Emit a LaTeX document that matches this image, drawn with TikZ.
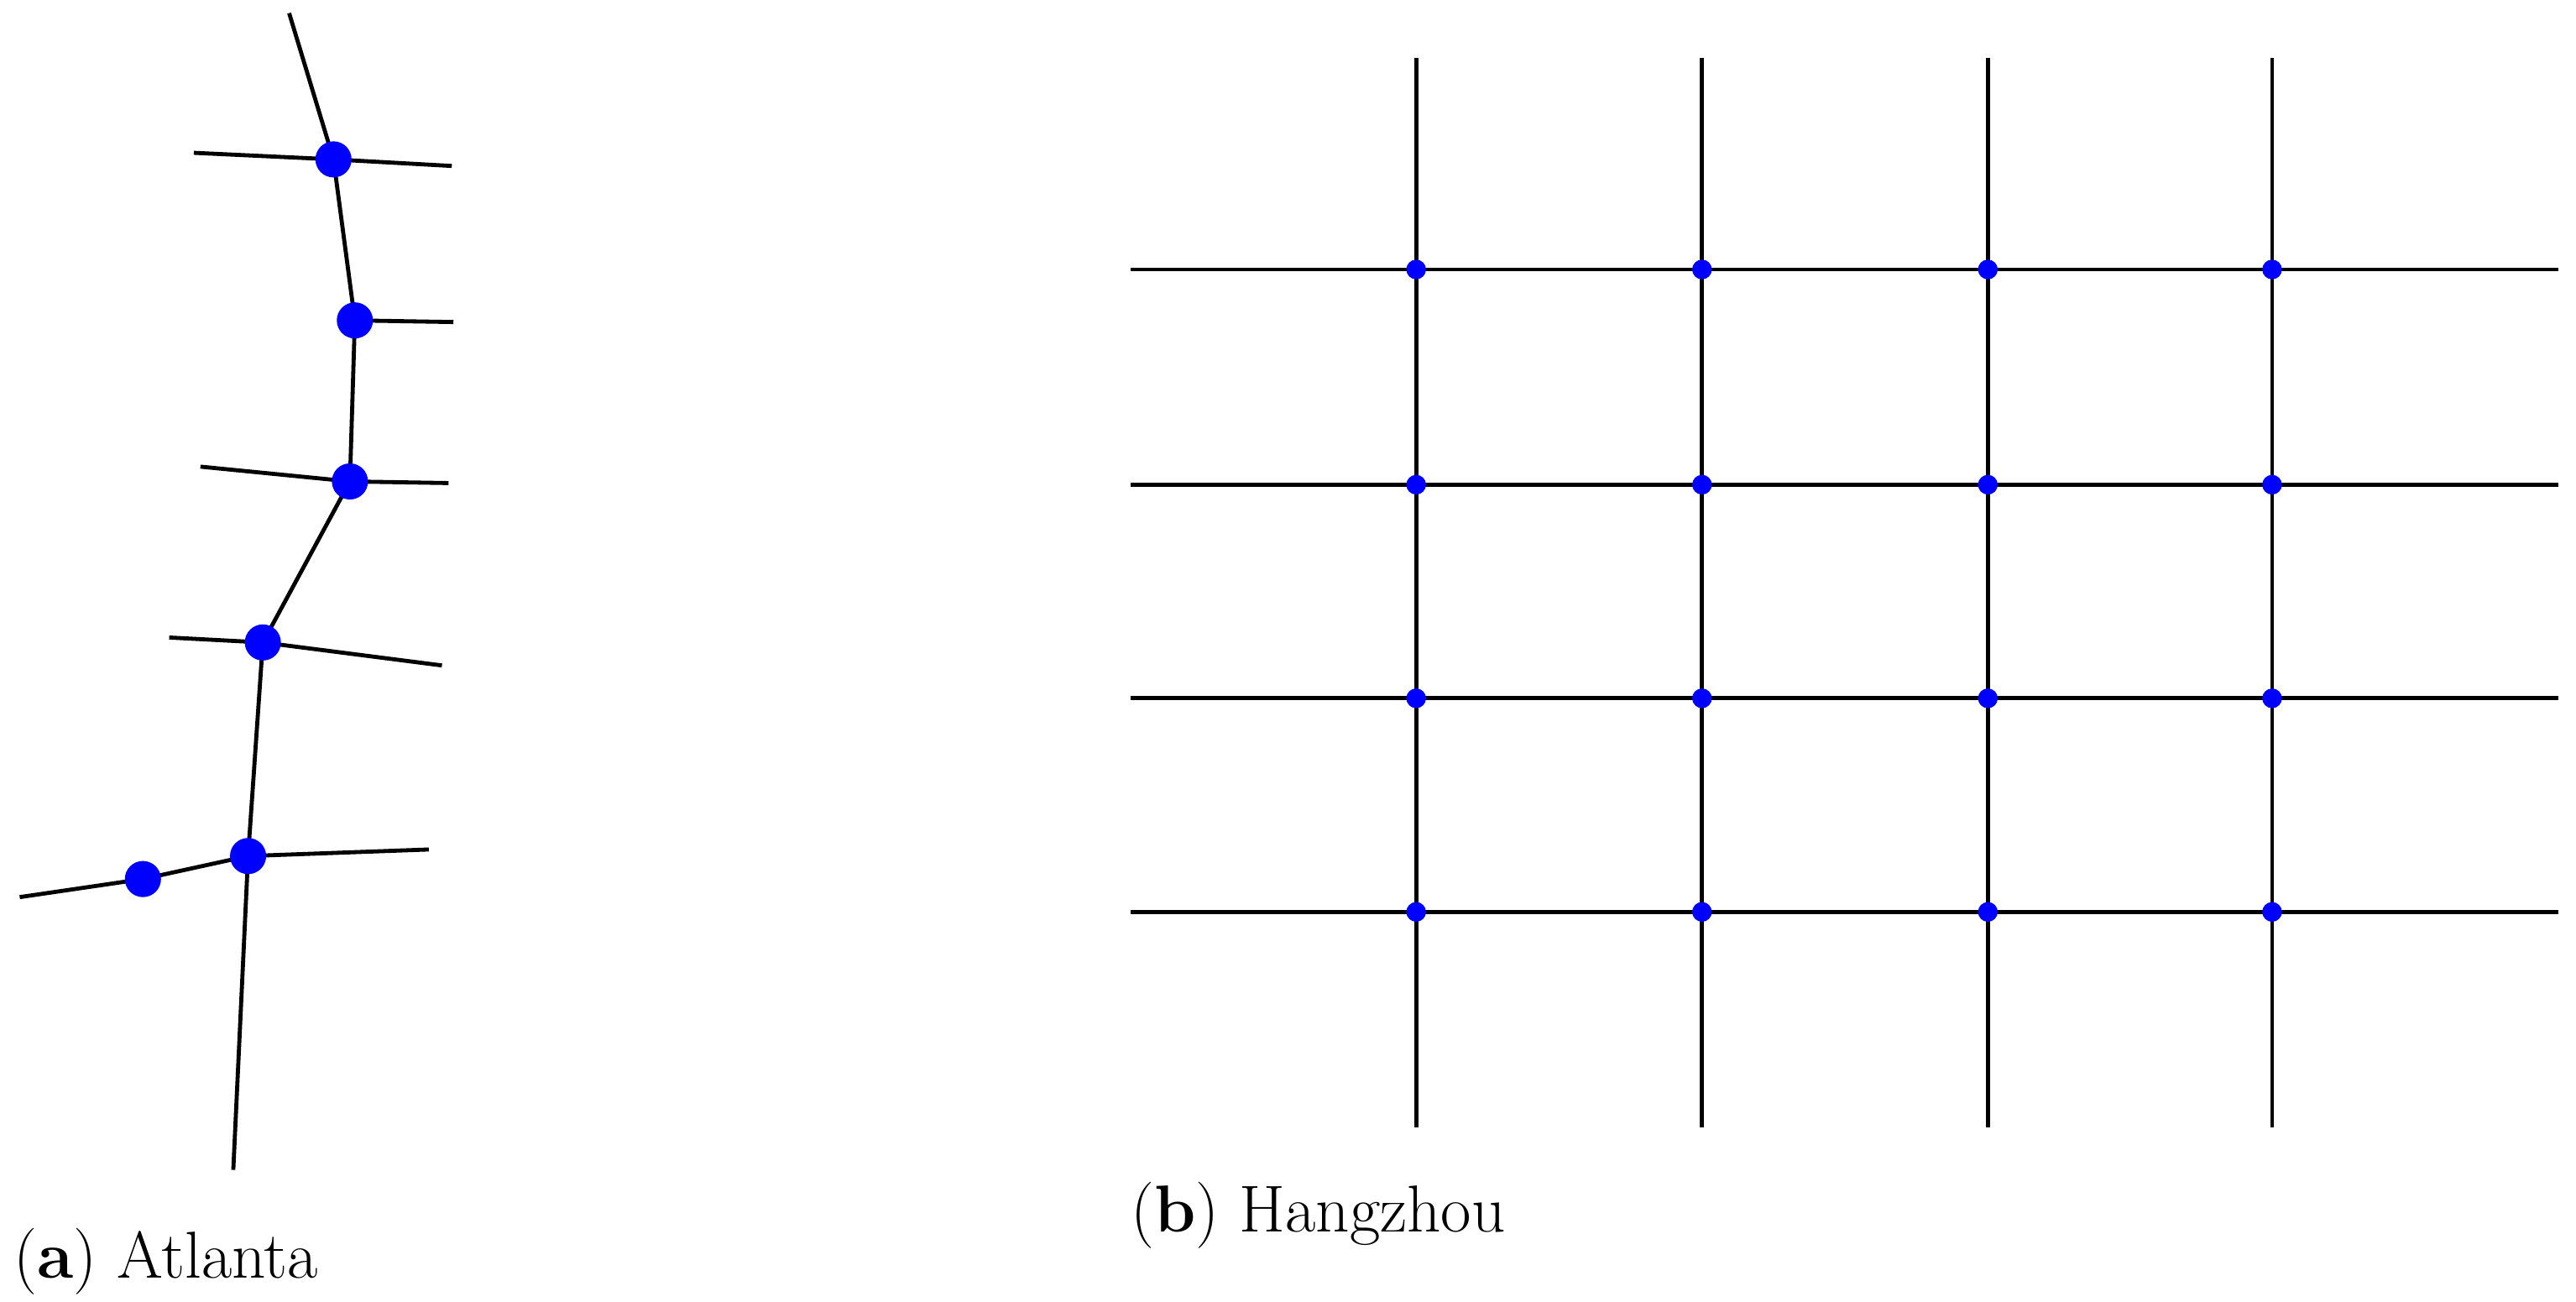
\documentclass[tikz,border=0pt]{standalone}
\begin{document}
\begin{tikzpicture}[x=0.02cm,y=-0.02cm,
  road/.style={line width=1.4pt,black},
  bigdot/.style={circle,fill=blue,inner sep=0pt,minimum size=0.44cm},
  smalldot/.style={circle,fill=blue,inner sep=0pt,minimum size=0.24cm},
  lbl/.style={font=\fontsize{23}{27}\selectfont,anchor=base west,inner sep=0pt}]
\useasboundingbox (0,0) rectangle (1568,792);
% Atlanta
\coordinate (t0) at (176,8);
\coordinate (l1) at (118,93); \coordinate (r1) at (275,101);
\coordinate (r2) at (276,196);
\coordinate (l3) at (122,284); \coordinate (r3) at (273,294);
\coordinate (l4) at (103,388); \coordinate (r4) at (269,405);
\coordinate (r5) at (261,517);
\coordinate (l6) at (12,546); \coordinate (b5) at (142,712);
\coordinate (a1) at (203,97); \coordinate (a2) at (216,195); \coordinate (a3) at (213,293);
\coordinate (a4) at (160,391); \coordinate (a5) at (151,521); \coordinate (a6) at (87,535);
\draw[road] (t0)--(a1)--(a2)--(a3)--(a4)--(a5)--(b5);
\draw[road] (l1)--(a1)--(r1);
\draw[road] (a2)--(r2);
\draw[road] (l3)--(a3)--(r3);
\draw[road] (l4)--(a4)--(r4);
\draw[road] (a5)--(r5);
\draw[road] (a5)--(a6)--(l6);
\foreach \i in {1,...,6} \node[bigdot] (n\i) at (a\i) {};
% Hangzhou
\foreach \x [count=\i] in {862,1036,1210,1383} {
  \coordinate (vt\i) at (\x,35); \coordinate (vb\i) at (\x,686);
  \draw[road] (vt\i)--(vb\i);}
\foreach \y [count=\j] in {164,295,425,555} {
  \coordinate (hl\j) at (688,\y); \coordinate (hr\j) at (1557,\y);
  \draw[road] (hl\j)--(hr\j);}
\foreach \x [count=\i] in {862,1036,1210,1383}
  \foreach \y [count=\j] in {164,295,425,555}
    \node[smalldot] (h\i\j) at (\x,\y) {};
\node[lbl] (la) at (8,778) {(\textbf{a}) Atlanta};
\node[lbl] (lb) at (688,750) {(\textbf{b}) Hangzhou};
\end{tikzpicture}
\end{document}
